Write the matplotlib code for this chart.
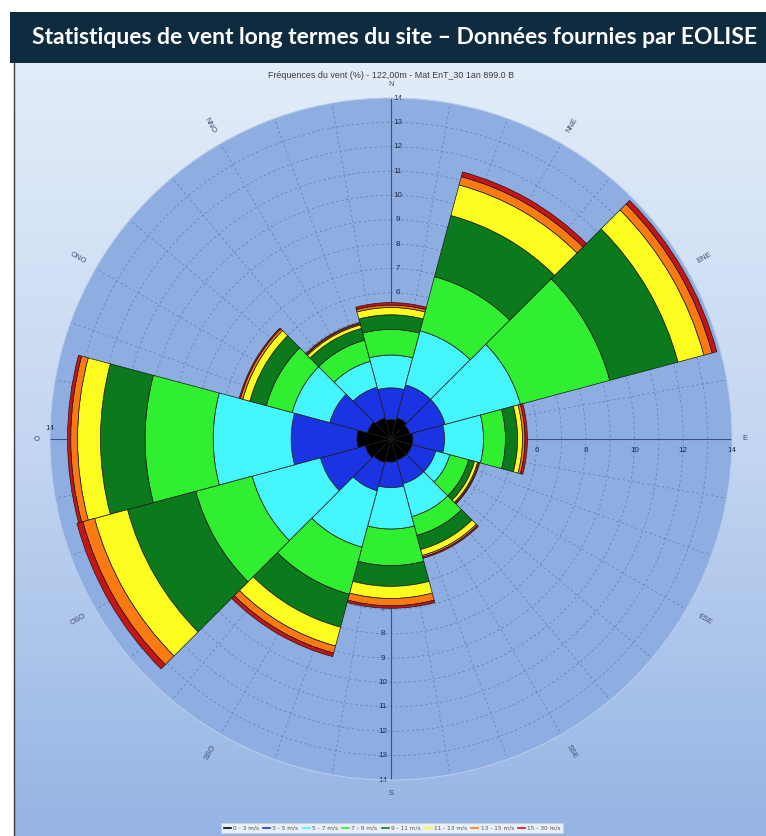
import numpy as np
import matplotlib
matplotlib.use("Agg")
import matplotlib.pyplot as plt
from matplotlib.lines import Line2D
from matplotlib.patches import Rectangle
from matplotlib.colors import LinearSegmentedColormap
from matplotlib.transforms import offset_copy

# ---------------- data ----------------
directions = ["N", "NNE", "ENE", "E", "ESE", "SSE", "S", "SSO", "OSO", "O", "ONO", "NNO"]
direction_deg = [0, 30, 60, 90, 120, 150, 180, 210, 240, 270, 300, 330]
speed_classes = ["0 - 3 m/s", "3 - 5 m/s", "5 - 7 m/s", "7 - 9 m/s",
                 "9 - 11 m/s", "11 - 13 m/s", "13 - 15 m/s", "15 - 30 m/s"]
class_colors = ["#000000", "#1a34e4", "#44f6fb", "#30ee30",
                "#0b7a1c", "#fcfc1e", "#fb7b12", "#c81414"]

#            N    NNE  ENE  E    ESE   SSE   S     SSO  OSO  O     ONO  NNO
f_0_3   = [0.80, 0.90, 0.80, 0.90, 0.90, 0.90, 0.95, 1.00, 1.10, 1.40, 1.00, 0.90]
f_3_5   = [1.30, 1.40, 1.50, 1.30, 1.00, 1.00, 1.05, 1.20, 1.90, 2.70, 1.60, 1.30]
f_5_7   = [1.35, 2.30, 3.20, 1.60, 0.60, 1.40, 1.70, 2.40, 2.90, 3.20, 1.60, 1.10]
f_7_9   = [1.05, 2.30, 3.80, 0.90, 0.80, 0.80, 1.50, 2.00, 2.40, 2.80, 1.10, 0.90]
f_9_11  = [0.60, 2.60, 2.90, 0.50, 0.25, 0.60, 0.85, 1.40, 2.90, 1.83, 0.70, 0.50]
f_11_13 = [0.30, 1.30, 1.10, 0.20, 0.13, 0.25, 0.50, 0.80, 1.40, 0.94, 0.30, 0.15]
f_13_15 = [0.10, 0.35, 0.35, 0.10, 0.05, 0.07, 0.30, 0.30, 0.50, 0.28, 0.10, 0.05]
f_15_30 = [0.10, 0.20, 0.20, 0.10, 0.04, 0.05, 0.10, 0.15, 0.25, 0.13, 0.05, 0.05]
series = [f_0_3, f_3_5, f_5_7, f_7_9, f_9_11, f_11_13, f_13_15, f_15_30]

title = "Statistiques de vent long termes du site \u2013 Donn\u00e9es fournies par EOLISE"
subtitle = "Fr\u00e9quences du vent (%) - 122,00m - Mat EnT_30 1an 899.0 B"
r_max = 14

# ---------------- figure ----------------
W, H = 766, 836
fig = plt.figure(figsize=(W / 100, H / 100), dpi=100)
fig.patch.set_facecolor("white")

bg = fig.add_axes([0, 0, 1, 1])
bg.set_xlim(0, W)
bg.set_ylim(H, 0)
bg.axis("off")
cmap = LinearSegmentedColormap.from_list("bgc", ["#e3edf9", "#c3d6f1", "#95b4e4"])
grad = np.linspace(0, 1, 256).reshape(-1, 1)
bg.imshow(grad, extent=[14, W, H, 63], aspect="auto", cmap=cmap, zorder=0)
bg.add_patch(Rectangle((10, 12), W - 10, 51, facecolor="#0e2b3f", edgecolor="none", zorder=1))
bg.plot([14, 14], [63, H], color="#3a3a3a", lw=1.0, zorder=2)
bg.text(395, 38, title, color="white", fontsize=16.5, fontweight="bold",
        family=["Lato", "DejaVu Sans"], ha="center", va="center", zorder=3)
bg.text(391, 75, subtitle, color="#3a3a3a", fontsize=6.4,
        family=["Liberation Sans", "DejaVu Sans"], ha="center", va="center", zorder=3)

# polar axes: center (391,439), radius 341 px
cx, cy, R = 391, 439, 341
ax = fig.add_axes([(cx - R) / W, (H - cy - R) / H, 2 * R / W, 2 * R / H], projection="polar")
ax.set_theta_zero_location("N")
ax.set_theta_direction(-1)
ax.set_ylim(0, r_max)
ax.set_facecolor("#8eaee1")
ax.spines["polar"].set_color("#b9cdec")
ax.spines["polar"].set_linewidth(0.8)
ax.set_xticks(np.deg2rad(np.arange(0, 360, 10)))
ax.set_xticklabels([])
ax.set_yticks(np.arange(1, r_max + 1))
ax.set_yticklabels([])
ax.tick_params(length=0)
ax.grid(True, color="#6384c0", linestyle=(0, (3, 3)), linewidth=0.6)
ax.set_axisbelow(True)

theta = np.deg2rad(direction_deg)
width = np.deg2rad(30)
bottom = np.zeros(len(directions))
for vals, col in zip(series, class_colors):
    vals = np.asarray(vals)
    ax.bar(theta, vals, width=width, bottom=bottom, color=col,
           edgecolor="#1a1a1a", linewidth=0.5, zorder=3)
    bottom = bottom + vals

# axis lines
for t in [0, np.pi / 2, np.pi, 3 * np.pi / 2]:
    ax.plot([t, t], [0, r_max], color="#3d4f80", lw=0.8, zorder=2)

lab_kw = dict(fontsize=5.8, color="#1e2a4a", family=["Liberation Sans", "DejaVu Sans"],
              ha="center", va="center", zorder=2.5, clip_on=False)
tr_top = offset_copy(ax.transData, fig=fig, x=7, y=0, units="dots")
tr_bot = offset_copy(ax.transData, fig=fig, x=-8, y=0, units="dots")
tr_right = offset_copy(ax.transData, fig=fig, x=0, y=-11, units="dots")
tr_left = offset_copy(ax.transData, fig=fig, x=0, y=11, units="dots")
for v in range(1, r_max + 1):
    ax.text(0, v, str(v), transform=tr_top, **lab_kw)
    ax.text(np.pi, v, str(v), transform=tr_bot, **lab_kw)
for v in range(2, r_max + 1, 2):
    ax.text(np.pi / 2, v, str(v), transform=tr_right, **lab_kw)
    ax.text(3 * np.pi / 2, v, str(v), transform=tr_left, **lab_kw)

# direction labels
dir_kw = dict(fontsize=5.5, color="#3a4a6a", family=["Liberation Sans", "DejaVu Sans"],
              ha="center", va="center", clip_on=False)
for name, d in zip(directions, direction_deg):
    if d % 90 == 0:
        ax.text(np.deg2rad(d), 14.55, name, rotation=0, **dir_kw)
    else:
        ang = (90 - d) % 360
        rot = ang if ang <= 90 or ang >= 270 else ang - 180
        if rot > 180:
            rot -= 360
        ax.text(np.deg2rad(d), 14.85, name, rotation=rot, **dir_kw)

# legend
handles = [Line2D([0], [0], color=c, lw=1.2) for c in class_colors]
leg = fig.legend(handles, speed_classes, loc="lower center", bbox_to_anchor=(0.512, 0.0),
                 ncol=8, fontsize=4.2, frameon=True, handlelength=1.2, handletextpad=0.35,
                 columnspacing=0.75, borderpad=0.4, fancybox=False)
leg.get_frame().set_facecolor("white")
leg.get_frame().set_edgecolor("#d0d0d0")
leg.get_frame().set_linewidth(0.5)
for t in leg.get_texts():
    t.set_color("#555555")

fig.savefig("out.png", dpi=100)
